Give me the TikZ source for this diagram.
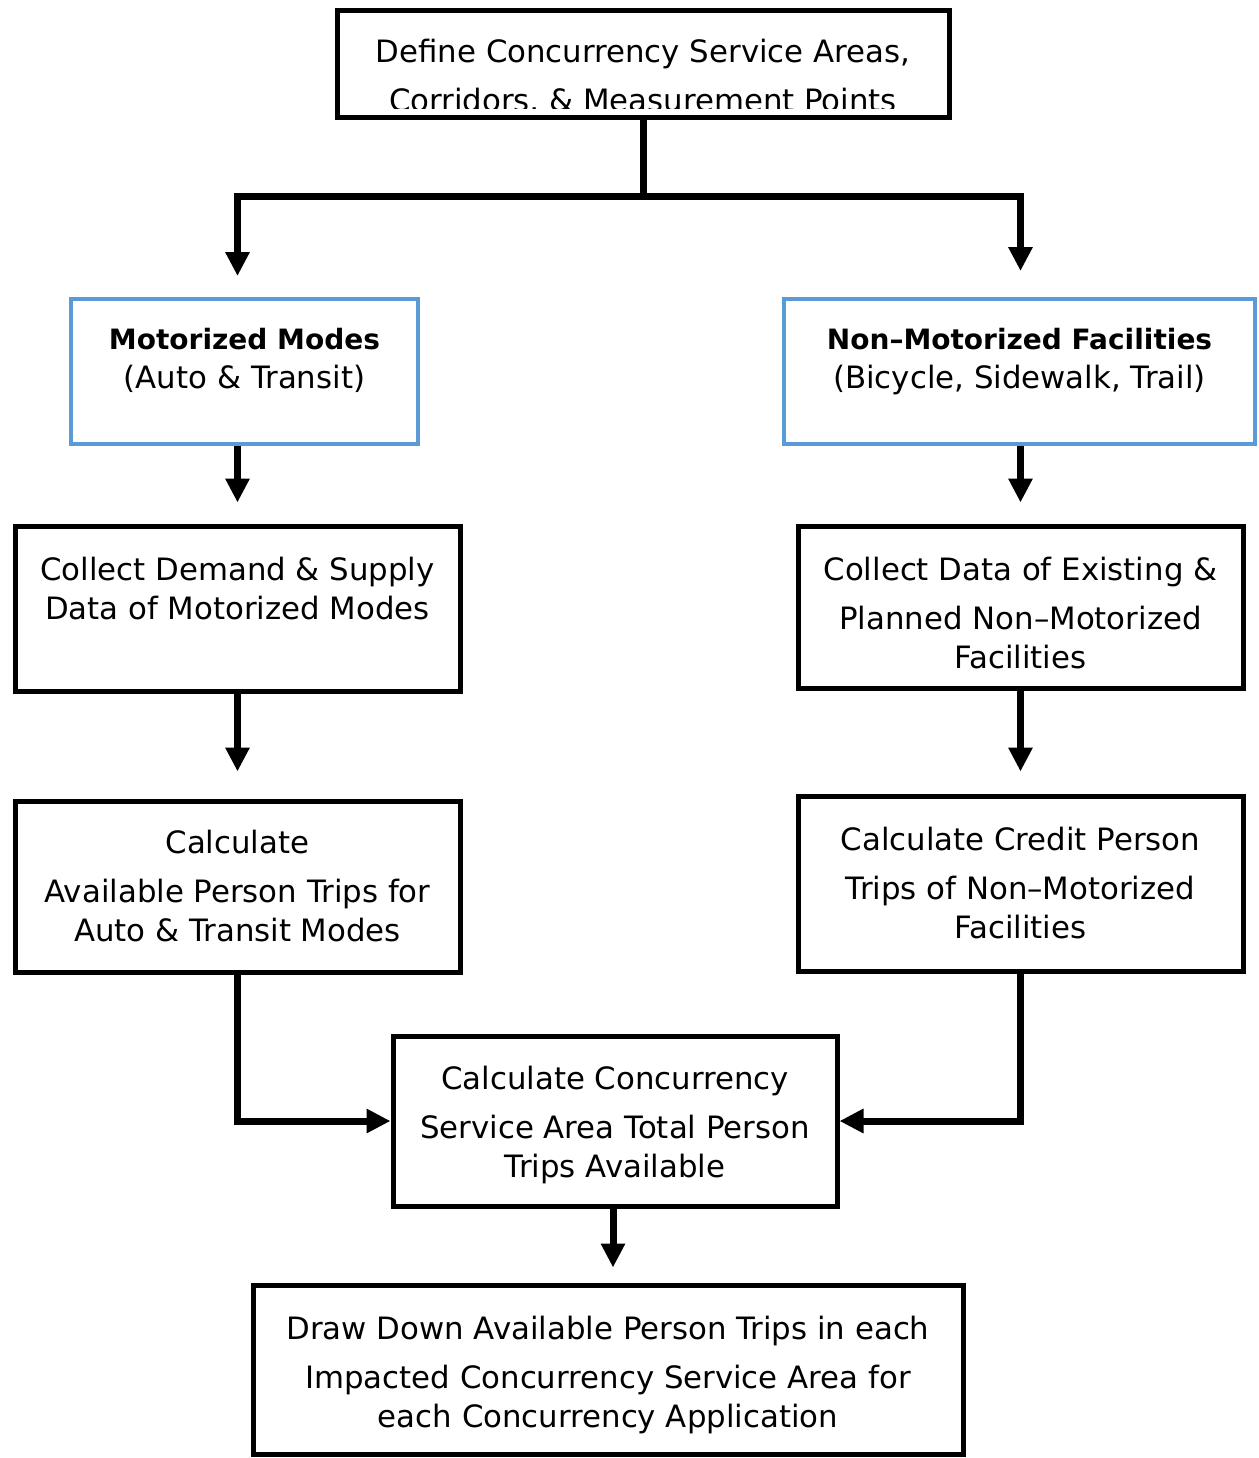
\documentclass[tikz,border=0pt]{standalone}
\usepackage{fontspec}
\setmainfont{DejaVu Sans}
\usetikzlibrary{arrows.meta,positioning}
\definecolor{modeblue}{RGB}{91,155,213}
\newcommand{\padtop}[1]{\rule{0pt}{#1}}
\newcommand{\headtext}[1]{{\fontsize{14}{19.5}\selectfont\bfseries #1}}

\tikzset{
  box/.style={draw, line width=2.5pt, align=center, inner sep=0pt,
    font=\fontsize{15.4}{19.5}\selectfont},
  modebox/.style={box, draw=modeblue, line width=2pt},
  flow/.style={line width=3.5pt},
  flowarrow/.style={flow, -{Triangle[width=11.5pt,length=12pt]}},
}

\begin{document}
\begin{tikzpicture}[x=0.5pt,y=-0.5pt]
\useasboundingbox (0,0) rectangle (1259,1458);

% boxes
\node[box, minimum width=306pt, minimum height=53.5pt,
  path picture={
    \clip (path picture bounding box.north west) rectangle ([yshift=4.5pt]path picture bounding box.south east);
    \node[anchor=north, inner sep=0pt, align=center, font=\fontsize{15.4}{19.5}\selectfont] (defineText)
      at ([yshift=-5.5pt]path picture bounding box.north)
      {Define Concurrency Service Areas,\\[5pt]Corridors, \& Measurement Points};
  }] (define) at (643,63.5) {};
\node[modebox, minimum width=173.5pt, minimum height=72.5pt, text depth=13pt] (motor) at (244.5,371.5)
  {\headtext{Motorized Modes}\\(Auto \& Transit)};
\node[modebox, minimum width=235.5pt, minimum height=72.5pt, text depth=13pt] (nonmotor) at (1019.5,371.5)
  {\headtext{Non--Motorized Facilities}\\(Bicycle, Sidewalk, Trail)};
\node[box, minimum width=222.5pt, minimum height=82.5pt, text depth=20pt] (collectA) at (237.5,608.5)
  {Collect Demand \& Supply\\Data of Motorized Modes};
\node[box, minimum width=222.5pt, minimum height=81pt] (collectB) at (1020.5,607)
  {\padtop{17.7pt}Collect Data of Existing \&\\[5pt]Planned Non--Motorized\\Facilities};
\node[box, minimum width=222.5pt, minimum height=85.5pt] (calcA) at (237.5,886.5)
  {Calculate\\[5pt]Available Person Trips for\\Auto \& Transit Modes};
\node[box, minimum width=222.5pt, minimum height=87.5pt] (calcB) at (1020.5,883.5)
  {Calculate Credit Person\\[5pt]Trips of Non--Motorized\\Facilities};
\node[box, minimum width=222pt, minimum height=85pt] (conc) at (615,1121)
  {\padtop{15.7pt}Calculate Concurrency\\[5pt]Service Area Total Person\\Trips Available};
\node[box, minimum width=355pt, minimum height=84.5pt] (drawdown) at (608,1369.5)
  {\padtop{17pt}Draw Down Available Person Trips in each\\[5pt]Impacted Concurrency Service Area for\\each Concurrency Application};

% connectors
\coordinate (split) at (643,196);
\draw[flow] (define.south) -- (split);
\draw[flowarrow, shorten >=10.5pt] (split) -| (collectA.north |- motor.north);
\draw[flowarrow, shorten >=13pt] (split) -| (collectB.north |- nonmotor.north);
\draw[flowarrow, shorten >=10.5pt] (collectA.north |- motor.south) -- (collectA.north);
\draw[flowarrow, shorten >=10.5pt] (collectB.north |- nonmotor.south) -- (collectB.north);
\draw[flowarrow, shorten >=13.5pt] (collectA.south) -- (calcA.north);
\draw[flowarrow, shorten >=11pt] (collectB.south) -- (calcB.north);
\draw[flowarrow] (calcA.south) |- (conc.west);
\draw[flowarrow] (calcB.south) |- (conc.east);
\draw[flowarrow, shorten >=7.5pt] ([xshift=-1pt]conc.south) -- ([xshift=-1pt]conc.south |- drawdown.north);
\end{tikzpicture}
\end{document}
